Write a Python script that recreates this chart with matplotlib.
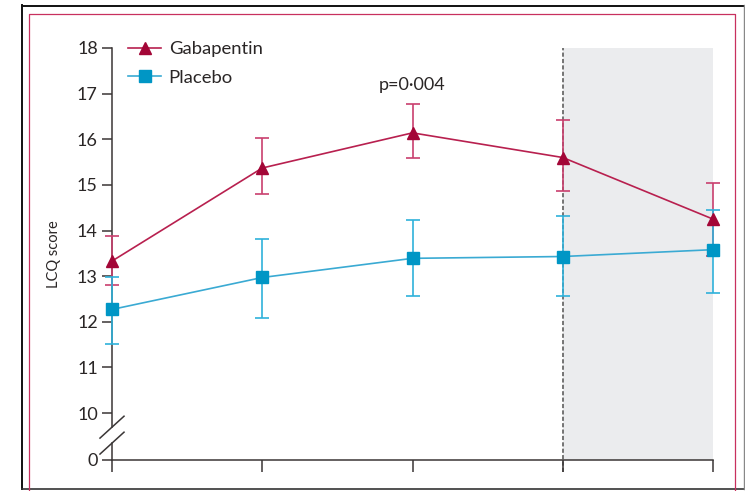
import matplotlib
matplotlib.use("Agg")
import matplotlib.pyplot as plt
from matplotlib.lines import Line2D

plt.rcParams['font.family'] = ['Lato', 'DejaVu Sans']
plt.rcParams['lines.scale_dashes'] = False

# ---- data ----
visits = [0, 1, 2, 3, 4]
gaba_mean = [13.33, 15.37, 16.14, 15.60, 14.25]
gaba_lo = [12.80, 14.81, 15.59, 14.87, 13.45]
gaba_hi = [13.88, 16.02, 16.77, 16.43, 15.05]
plac_mean = [12.27, 12.97, 13.39, 13.43, 13.58]
plac_lo = [11.52, 12.08, 12.56, 12.56, 12.64]
plac_hi = [12.99, 13.82, 14.23, 14.32, 14.45]
ytick_vals = [8.97, 10, 11, 12, 13, 14, 15, 16, 17, 18]
ytick_labels = ['0', '10', '11', '12', '13', '14', '15', '16', '17', '18']
series_names = ['Gabapentin', 'Placebo']
p_label = 'p=0\u00b7004'

W, H = 745, 491
GABA_LINE = '#B8204F'
GABA_MARK = '#A30637'
GABA_ERR = '#C9406E'
PLAC_LINE = '#3AAAD3'
PLAC_MARK = '#0096C5'
PLAC_ERR = '#2FB1DA'
AXC = '#3a3636'
TXT = '#2a2626'

fig = plt.figure(figsize=(W / 100, H / 100), dpi=100)
fig.patch.set_facecolor('white')


def fx(x):
    return x / W


def fy(y):
    return 1 - y / H


# frames
fig.add_artist(Line2D([fx(22), fx(22)], [fy(489), fy(5)], color='#111111', lw=1.4, transform=fig.transFigure))
fig.add_artist(Line2D([fx(22), fx(745)], [fy(5.5), fy(5.5)], color='#111111', lw=1.4, transform=fig.transFigure))
fig.add_artist(Line2D([fx(22), fx(745)], [fy(489), fy(489)], color='#333333', lw=1.2, transform=fig.transFigure))
fig.add_artist(Line2D([fx(744), fx(744)], [fy(489), fy(5)], color='#888888', lw=1.0, transform=fig.transFigure))
fig.add_artist(Line2D([fx(28.5), fx(28.5), fx(735), fx(735)], [fy(491), fy(14), fy(14), fy(491)],
                      color='#C8305F', lw=0.9, transform=fig.transFigure))

ax = fig.add_axes([fx(112), fy(460), (713 - 112) / W, (460 - 48) / H])
ax.set_xlim(0, 4)
ax.set_ylim(8.97, 18)

# shaded region and dashed line
ax.axvspan(3, 4, color='#EBECEE', zorder=0, lw=0)
ax.plot([3, 3], [8.71, 18], ls=(0, (3.0, 1.6)), color='#6a6a6a', lw=1.3, clip_on=False, zorder=1)

# error bars
ax.errorbar(visits, gaba_mean,
            yerr=[[m - l for m, l in zip(gaba_mean, gaba_lo)], [h - m for m, h in zip(gaba_mean, gaba_hi)]],
            fmt='none', ecolor=GABA_ERR, elinewidth=1.2, capsize=4.7, capthick=1.2, zorder=2, clip_on=False)
ax.errorbar(visits, plac_mean,
            yerr=[[m - l for m, l in zip(plac_mean, plac_lo)], [h - m for m, h in zip(plac_mean, plac_hi)]],
            fmt='none', ecolor=PLAC_ERR, elinewidth=1.2, capsize=4.7, capthick=1.2, zorder=3, clip_on=False)

h1, = ax.plot(visits, gaba_mean, color=GABA_LINE, lw=1.2, marker='^', ms=8.5,
              mfc=GABA_MARK, mec=GABA_MARK, label=series_names[0], clip_on=False, zorder=4)
h2, = ax.plot(visits, plac_mean, color=PLAC_LINE, lw=1.2, marker='s', ms=9,
              mfc=PLAC_MARK, mec=PLAC_MARK, label=series_names[1], clip_on=False, zorder=5)

# axes styling
for s in ['top', 'right', 'left']:
    ax.spines[s].set_visible(False)
ax.spines['bottom'].set_color(AXC)
ax.spines['bottom'].set_linewidth(1.1)
ax.set_xticks(visits)
ax.set_xticklabels([])
ax.tick_params(axis='x', direction='out', length=8.6, width=1.1, color=AXC)
ax.set_yticks(ytick_vals)
ax.set_yticklabels(ytick_labels)
ax.tick_params(axis='y', direction='out', length=7.2, width=1.1, color=AXC, pad=3,
               labelsize=13, labelcolor=TXT)

# broken left spine
ax.plot([0, 0], [9.69, 18], color=AXC, lw=1.1, clip_on=False, zorder=1)
ax.plot([0, 0], [8.97, 9.34], color=AXC, lw=1.1, clip_on=False, zorder=1)
for c in (9.69, 9.34):
    ax.plot([-0.08, 0.08], [c - 0.24, c + 0.24], color=AXC, lw=1.1, clip_on=False, zorder=1)

ax.text(2, 17.19, p_label, ha='center', va='center', fontsize=13, color=TXT)

fig.text(fx(54), fy(254), 'LCQ score', rotation=90, ha='center', va='center', fontsize=10.5, color=TXT)

leg = ax.legend(handles=[h1, h2], loc='upper left', bbox_to_anchor=(fx(128), fy(41)),
                bbox_transform=fig.transFigure, frameon=False, fontsize=13.3, borderpad=0,
                borderaxespad=0, handlelength=1.8, handletextpad=0.4, labelspacing=0.68, numpoints=1)
for t in leg.get_texts():
    t.set_color(TXT)

fig.savefig('out.png', dpi=100, facecolor='white')
